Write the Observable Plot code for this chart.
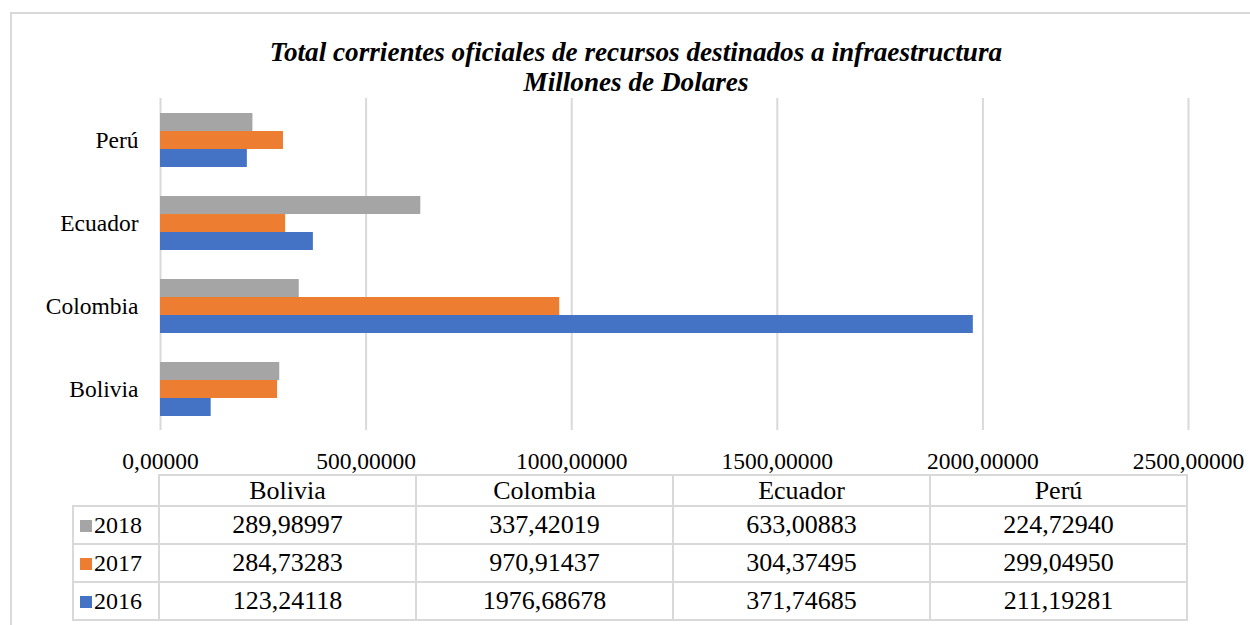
<!DOCTYPE html>
<html>
<head>
<meta charset="utf-8">
<script src="https://cdn.jsdelivr.net/npm/d3@7"></script>
<script src="https://cdn.jsdelivr.net/npm/@observablehq/plot@0.6"></script>
<style>
  body { margin: 0; background: #fff; }
  #wrap, #wrap * { font-family: 'Liberation Serif', 'Times New Roman', serif !important; }
  #wrap { position: relative; width: 1250px; height: 625px; overflow: hidden; color: #000; }
  #frame { position: absolute; left: 10px; top: 12px; width: 1300px; height: 700px; border: 2px solid #d9d9d9; box-sizing: border-box; }
  #title { position: absolute; left: 0; top: 37px; width: 1272px; text-align: center; font-weight: bold; font-style: italic; font-size: 27.2px; line-height: 30px; }
  #chart { position: absolute; left: 0; top: 0; }
  #chart text { fill: #000; }
  table { position: absolute; left: 72px; top: 474px; border-collapse: collapse; font-size: 26px; }
  td { border: 2px solid #d9d9d9; text-align: center; padding: 0; line-height: 28px; }
  tr.hd td { height: 29px; }
  tr.rw td { height: 36px; }
  td.lg { width: 86px; text-align: left; padding-left: 6px; box-sizing: border-box; white-space: nowrap; font-size: 24px; }
  td.c { width: 255px; }
  td.blank { border-top: none; border-left: none; }
  .sw { display: inline-block; width: 12px; height: 12px; margin-right: 2px; vertical-align: 1px; }
</style>
</head>
<body>
<div id="wrap">
  <div id="frame"></div>
  <div id="title">Total corrientes oficiales de recursos destinados a infraestructura<br>Millones de Dolares</div>
  <div id="chart"></div>
  <table id="tbl"></table>
</div>
<script>
const countries = ["Bolivia", "Colombia", "Ecuador", "Perú"];
const years = ["2018", "2017", "2016"];
const v2018 = [289.98997, 337.42019, 633.00883, 224.72940];
const v2017 = [284.73283, 970.91437, 304.37495, 299.04950];
const v2016 = [123.24118, 1976.68678, 371.74685, 211.19281];
const xTicks = [0, 500, 1000, 1500, 2000, 2500];
const colors = ["#A5A5A5", "#ED7D31", "#4472C4"];

const series = {"2018": v2018, "2017": v2017, "2016": v2016};
const data = [];
for (const y of years) countries.forEach((c, i) => data.push({country: c, year: y, value: series[y][i]}));

const fmt = d => d.toFixed(5).replace(".", ",");

const plot = Plot.plot({
  width: 1250,
  height: 480,
  marginTop: 97,
  marginBottom: 50,
  marginLeft: 160,
  marginRight: 62,
  style: {fontFamily: "'Liberation Serif', 'Times New Roman', serif", fontSize: "23.5px", color: "#000", background: "transparent", overflow: "visible"},
  x: {domain: [0, 2500], ticks: xTicks, tickFormat: fmt, tickSize: 0, tickPadding: 22, label: null},
  y: {domain: years, axis: null, paddingInner: 0, paddingOuter: 0.69},
  fy: {domain: [...countries].reverse(), padding: 0, label: null, tickSize: 0, tickPadding: 22},
  color: {domain: years, range: colors},
  marks: [
    Plot.ruleX(xTicks, {stroke: "#d9d9d9", strokeWidth: 2}),
    Plot.barX(data, {x: "value", y: "year", fy: "country", fill: "year"})
  ]
});
document.getElementById("chart").appendChild(plot);

const tbl = document.getElementById("tbl");
let html = '<tr class="hd"><td class="lg blank"></td>' + countries.map(c => `<td class="c">${c}</td>`).join("") + "</tr>";
years.forEach((y, k) => {
  html += `<tr class="rw"><td class="lg"><span class="sw" style="background:${colors[k]}"></span>${y}</td>` +
    series[y].map(v => `<td class="c">${fmt(v)}</td>`).join("") + "</tr>";
});
tbl.innerHTML = html;
</script>
</body>
</html>
